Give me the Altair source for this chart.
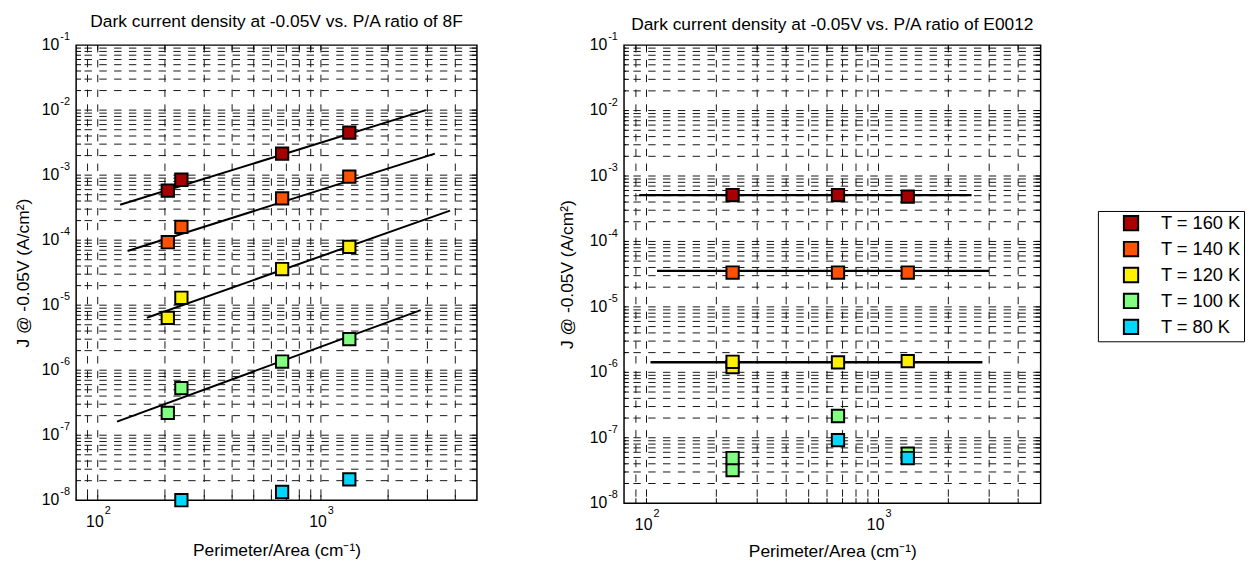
import altair as alt
import pandas as pd

FONT = "Liberation Sans"
SERIES = ["T = 160 K", "T = 140 K", "T = 120 K", "T = 100 K", "T = 80 K"]
COLORS = ["#A80000", "#FF5200", "#FFF000", "#80FF80", "#00D8FF"]

# ---- Left panel (8F): measured points ----
L_160_X = [206, 237, 670, 1340]
L_160_Y = [5.8e-4, 8.5e-4, 2.15e-3, 4.5e-3]
L_140_X = [206, 237, 670, 1340]
L_140_Y = [9.3e-5, 1.6e-4, 4.4e-4, 9.5e-4]
L_120_X = [206, 237, 670, 1340]
L_120_Y = [6.4e-6, 1.3e-5, 3.6e-5, 7.9e-5]
L_100_X = [206, 237, 670, 1340]
L_100_Y = [2.2e-7, 5.3e-7, 1.36e-6, 3.0e-6]
L_80_X = [237, 670, 1340]
L_80_Y = [1.0e-8, 1.34e-8, 2.1e-8]

# Left panel fit lines (end points)
L_FIT_SERIES = ["T = 160 K", "T = 140 K", "T = 120 K", "T = 100 K"]
L_FIT_X1 = [126, 136, 166, 122]
L_FIT_Y1 = [3.5e-4, 6.8e-5, 6.4e-6, 1.62e-7]
L_FIT_X2 = [2950, 3240, 3790, 2800]
L_FIT_Y2 = [1.0e-2, 2.14e-3, 2.85e-4, 8.4e-6]

# ---- Right panel (E0012): measured points ----
R_160_X = [235, 669, 1337]
R_160_Y = [5.1e-4, 5.1e-4, 4.85e-4]
R_140_X = [235, 669, 1337]
R_140_Y = [3.35e-5, 3.35e-5, 3.35e-5]
R_120_X = [235, 235, 669, 1337]
R_120_Y = [1.2e-6, 1.45e-6, 1.42e-6, 1.48e-6]
R_100_X = [235, 235, 669, 1337]
R_100_Y = [3.2e-8, 4.9e-8, 2.15e-7, 5.7e-8]
R_80_X = [669, 1337]
R_80_Y = [9.2e-8, 4.9e-8]

# Right panel fit lines (horizontal)
R_FIT_SERIES = ["T = 160 K", "T = 140 K", "T = 120 K"]
R_FIT_X1 = [93, 111, 104]
R_FIT_X2 = [2518, 2993, 2805]
R_FIT_Y = [5.1e-4, 3.55e-5, 1.43e-6]

# ---- Axes: tick labels and grid ----
X_DOMAIN = [80, 5000]
Y_DOMAIN = [1e-8, 1e-1]
X_LABEL_VALUES = [100, 1000]
X_LABEL_EXPS = ["2", "3"]
Y_LABEL_VALUES = [1e-8, 1e-7, 1e-6, 1e-5, 1e-4, 1e-3, 1e-2, 1e-1]
Y_LABEL_EXPS = ["-8", "-7", "-6", "-5", "-4", "-3", "-2", "-1"]
X_GRID = [90, 100, 200, 300, 400, 500, 600, 700, 800, 900,
          1000, 2000, 3000, 4000]
Y_GRID = [m * 10.0 ** k for k in range(-8, -1) for m in range(1, 10)][1:]

XTITLE = "Perimeter/Area (cm\u207b\u00b9)"
YTITLE = "J @ -0.05V (A/cm\u00b2)"


def points_df(groups):
    rows = []
    for name, xs, ys in groups:
        for x, y in zip(xs, ys):
            rows.append({"series": name, "pa": x, "j": y})
    return pd.DataFrame(rows)


def panel(pts, fit, title, w, h, title_offset, ytitle_pad, xtitle_pad, lw):
    xs = alt.Scale(type="log", domain=X_DOMAIN, nice=False)
    ys = alt.Scale(type="log", domain=Y_DOMAIN, nice=False)
    xax = alt.Axis(labels=False, ticks=False, domain=False, grid=False,
                   title=XTITLE, titlePadding=xtitle_pad)
    yax = alt.Axis(labels=False, ticks=False, domain=False, grid=False,
                   title=YTITLE, titlePadding=ytitle_pad)

    gx = pd.DataFrame({"v": X_GRID})
    gy = pd.DataFrame({"v": Y_GRID})
    dash = dict(color="#151515", strokeWidth=1, strokeDash=[7.5, 7.5])
    vgrid = alt.Chart(gx).mark_rule(**dash).encode(
        x=alt.X("v:Q", scale=xs, axis=xax))
    hgrid = alt.Chart(gy).mark_rule(**dash).encode(
        y=alt.Y("v:Q", scale=ys, axis=yax))

    tk = dict(color="black", strokeWidth=1)
    tb = alt.Chart(gx).mark_rule(**tk).encode(
        x=alt.X("v:Q", scale=xs, axis=xax), y=alt.value(h), y2=alt.value(h - 5))
    tt = alt.Chart(gx).mark_rule(**tk).encode(
        x=alt.X("v:Q", scale=xs, axis=xax), y=alt.value(0), y2=alt.value(5))
    tl = alt.Chart(gy).mark_rule(**tk).encode(
        y=alt.Y("v:Q", scale=ys, axis=yax), x=alt.value(0), x2=alt.value(5))
    tr = alt.Chart(gy).mark_rule(**tk).encode(
        y=alt.Y("v:Q", scale=ys, axis=yax), x=alt.value(w), x2=alt.value(w - 5))

    lines = alt.Chart(fit).mark_rule(color="black", strokeWidth=lw).encode(
        x=alt.X("x1:Q", scale=xs, axis=xax), x2="x2:Q",
        y=alt.Y("y1:Q", scale=ys, axis=yax), y2="y2:Q")

    pts_layer = alt.Chart(pts).mark_square(
        size=155, filled=True, opacity=1, stroke="black", strokeWidth=2
    ).encode(
        x=alt.X("pa:Q", scale=xs, axis=xax),
        y=alt.Y("j:Q", scale=ys, axis=yax),
        color=alt.Color("series:N", scale=alt.Scale(domain=SERIES, range=COLORS),
                        legend=alt.Legend(title=None)),
        order=alt.Order("idx:Q"),
    )

    yl = pd.DataFrame({"v": Y_LABEL_VALUES, "base": ["10"] * len(Y_LABEL_VALUES),
                       "exp": Y_LABEL_EXPS})
    xl = pd.DataFrame({"v": X_LABEL_VALUES, "base": ["10"] * len(X_LABEL_VALUES),
                       "exp": X_LABEL_EXPS})
    ybase = alt.Chart(yl).mark_text(align="right", baseline="middle", fontSize=16,
                                    font=FONT, color="black").encode(
        x=alt.value(-17), y=alt.Y("v:Q", scale=ys, axis=yax), text="base:N")
    yexp = alt.Chart(yl).mark_text(align="left", baseline="middle", fontSize=11,
                                   font=FONT, color="black", dy=-8).encode(
        x=alt.value(-16), y=alt.Y("v:Q", scale=ys, axis=yax), text="exp:N")
    xbase = alt.Chart(xl).mark_text(align="right", baseline="middle", fontSize=16,
                                    font=FONT, color="black", dx=6).encode(
        x=alt.X("v:Q", scale=xs, axis=xax), y=alt.value(h + 22), text="base:N")
    xexp = alt.Chart(xl).mark_text(align="left", baseline="middle", fontSize=11,
                                   font=FONT, color="black", dx=7).encode(
        x=alt.X("v:Q", scale=xs, axis=xax), y=alt.value(h + 11), text="exp:N")

    return alt.layer(
        vgrid, hgrid, tb, tt, tl, tr, lines, pts_layer, ybase, yexp, xbase, xexp
    ).properties(
        width=w, height=h,
        title=alt.Title(title, offset=title_offset, frame="group",
                        baseline="bottom", anchor="middle"),
    )


lp = points_df([(SERIES[0], L_160_X, L_160_Y), (SERIES[1], L_140_X, L_140_Y),
                (SERIES[2], L_120_X, L_120_Y), (SERIES[3], L_100_X, L_100_Y),
                (SERIES[4], L_80_X, L_80_Y)])
lp["idx"] = range(len(lp))
rp = points_df([(SERIES[0], R_160_X, R_160_Y), (SERIES[1], R_140_X, R_140_Y),
                (SERIES[2], R_120_X, R_120_Y), (SERIES[3], R_100_X, R_100_Y),
                (SERIES[4], R_80_X, R_80_Y)])
rp["idx"] = range(len(rp))

lfit = pd.DataFrame({"series": L_FIT_SERIES, "x1": L_FIT_X1, "y1": L_FIT_Y1,
                     "x2": L_FIT_X2, "y2": L_FIT_Y2})
rfit = pd.DataFrame({"series": R_FIT_SERIES, "x1": R_FIT_X1, "y1": R_FIT_Y,
                     "x2": R_FIT_X2, "y2": R_FIT_Y})

left = panel(lp, lfit, "Dark current density at -0.05V vs. P/A ratio of 8F",
             406, 461, -17, 44.6, 41.7, 2)
right = panel(rp, rfit, "Dark current density at -0.05V vs. P/A ratio of E0012",
              422, 464, -20, 47.9, 40.4, 2.5)

chart = alt.hconcat(left, right, spacing=80).properties(
    padding={"left": 5, "top": 0, "right": 0, "bottom": 0}
).configure(font=FONT).configure_view(
    stroke="black", strokeWidth=1.5
).configure_title(
    fontSize=17.6, fontWeight="normal", font=FONT, color="black"
).configure_axis(
    titleFontSize=17.6, titleFontWeight="normal", titleFont=FONT, titleColor="black"
).configure_legend(
    orient="none", legendX=1035, legendY=168,
    strokeColor="black", fillColor="white", padding=3,
    symbolType="square", symbolSize=210, symbolStrokeColor="black",
    symbolStrokeWidth=2, symbolOpacity=1, symbolOffset=21.3,
    labelFontSize=18.5, labelFont=FONT, labelColor="black", labelOffset=21,
    rowPadding=3.3,
)

chart.save("out.html", embed_options={"renderer": "svg", "actions": False})
